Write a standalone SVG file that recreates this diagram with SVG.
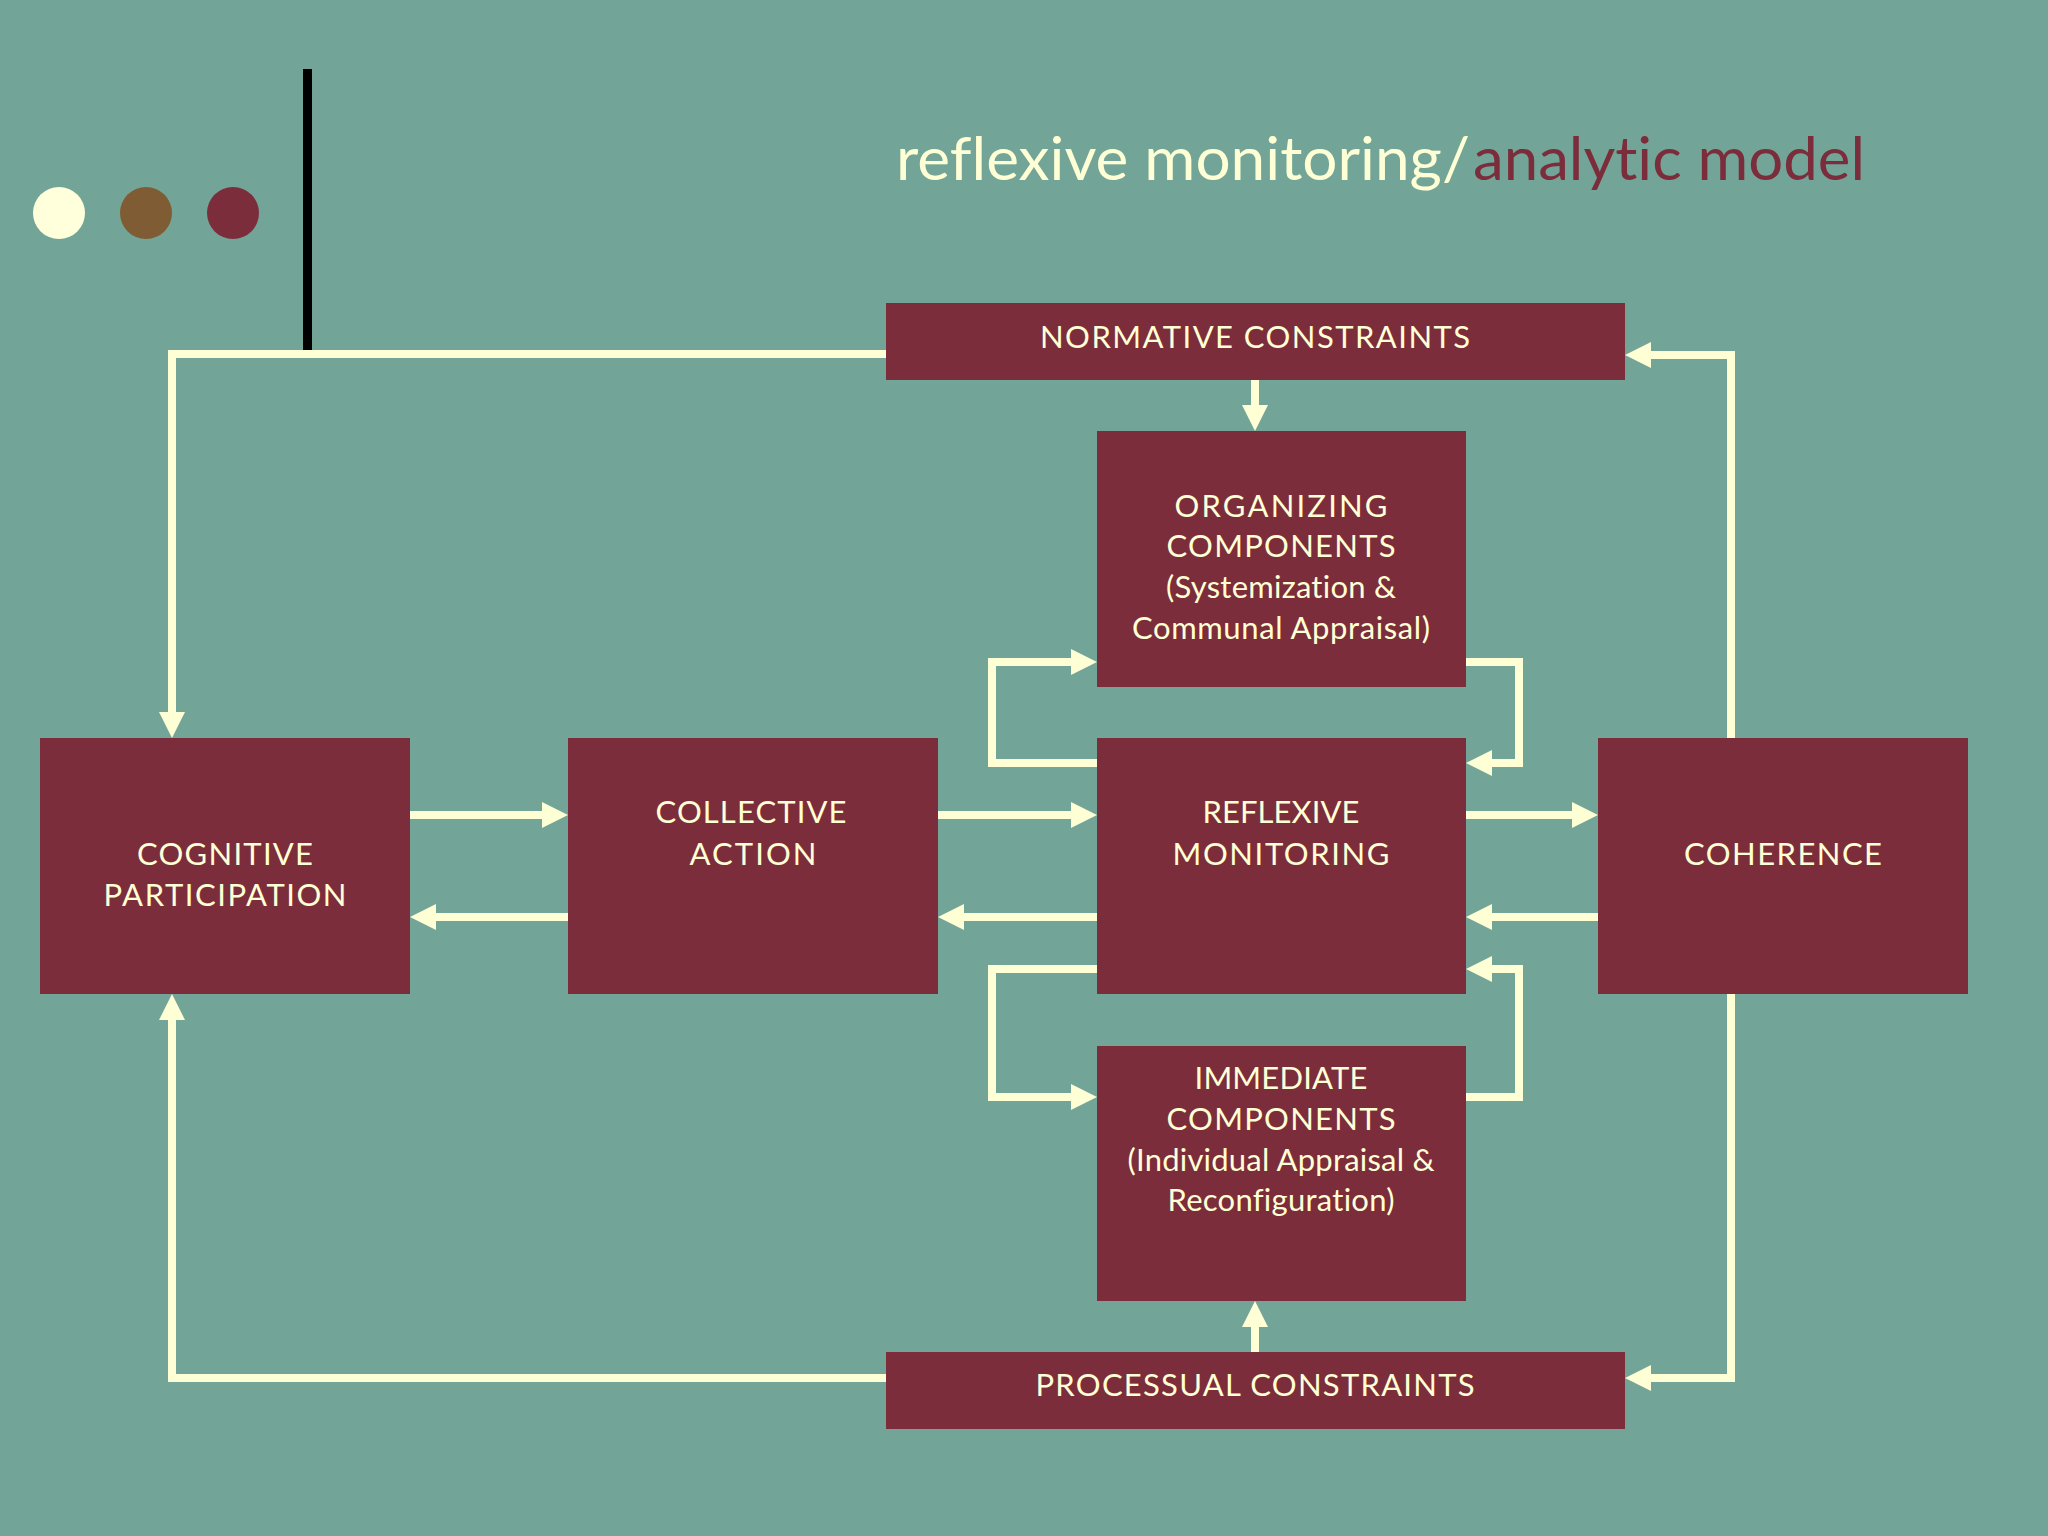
<svg xmlns="http://www.w3.org/2000/svg" width="2048" height="1536" viewBox="0 0 2048 1536">
<defs>
<style>
.bg{fill:#72A597}
.box{fill:#7C2D3B}
.lbl{font-family:Lato,"Open Sans","Liberation Sans",sans-serif;font-size:31px;fill:#FFFFD6;text-anchor:middle;font-variant-ligatures:none;font-feature-settings:"liga" 0,"dlig" 0}
.title{font-family:Lato,"Open Sans","Liberation Sans",sans-serif;font-size:60px;font-variant-ligatures:none;font-feature-settings:"liga" 0,"dlig" 0}
.conn{fill:none;stroke:#FFFFD6;stroke-width:8;stroke-linejoin:miter}
</style>
<marker id="arr" markerUnits="userSpaceOnUse" markerWidth="26" markerHeight="26" refX="0" refY="13" orient="auto">
<path d="M0,0 L26,13 L0,26 Z" fill="#FFFFD6"/>
</marker>
</defs>
<rect class="bg" x="0" y="0" width="2048" height="1536"/>
<g id="decoration">
<circle cx="59" cy="213" r="26" fill="#FFFFDC"/>
<circle cx="146" cy="213" r="26" fill="#805C34"/>
<circle cx="233" cy="213" r="26" fill="#7C2D3B"/>
<rect x="303" y="69" width="9" height="281" fill="#000000"/>
</g>
<g id="title">
<text class="title" x="896" y="180" fill="#FFFFD6" textLength="574" lengthAdjust="spacingAndGlyphs">reflexive monitoring/</text>
<text class="title" x="1473" y="180" fill="#7C2D3B" textLength="392" lengthAdjust="spacingAndGlyphs">analytic model</text>
</g>
<g id="connectors">
<path class="conn" marker-end="url(#arr)" d="M886,354 H172 V712"/>
<path class="conn" marker-end="url(#arr)" d="M886,1378 H172 V1020"/>
<path class="conn" marker-end="url(#arr)" d="M1731,738 V355 H1651"/>
<path class="conn" marker-end="url(#arr)" d="M1731,994 V1378 H1651"/>
<path class="conn" marker-end="url(#arr)" d="M1255,380 V405"/>
<path class="conn" marker-end="url(#arr)" d="M1255,1352 V1327"/>
<path class="conn" marker-end="url(#arr)" d="M410,815 H542"/>
<path class="conn" marker-end="url(#arr)" d="M568,917 H436"/>
<path class="conn" marker-end="url(#arr)" d="M938,815 H1071"/>
<path class="conn" marker-end="url(#arr)" d="M1097,917 H964"/>
<path class="conn" marker-end="url(#arr)" d="M1466,815 H1572"/>
<path class="conn" marker-end="url(#arr)" d="M1598,917 H1492"/>
<path class="conn" marker-end="url(#arr)" d="M1097,763 H992 V662 H1071"/>
<path class="conn" marker-end="url(#arr)" d="M1466,662 H1519 V763 H1492"/>
<path class="conn" marker-end="url(#arr)" d="M1097,969 H992 V1097 H1071"/>
<path class="conn" marker-end="url(#arr)" d="M1466,1097 H1519 V969 H1492"/>
</g>
<g id="normative">
<rect class="box" x="886" y="303" width="739" height="77"/>
<text class="lbl" x="1255" y="348" textLength="430">NORMATIVE CONSTRAINTS</text>
</g>
<g id="organizing">
<rect class="box" x="1097" y="431" width="369" height="256"/>
<text class="lbl" x="1281" y="517" textLength="213">ORGANIZING</text>
<text class="lbl" x="1281" y="557" textLength="229">COMPONENTS</text>
<text class="lbl" x="1281" y="598" textLength="230">(Systemization &amp;</text>
<text class="lbl" x="1281" y="639" textLength="298">Communal Appraisal)</text>
</g>
<g id="cognitive">
<rect class="box" x="40" y="738" width="370" height="256"/>
<text class="lbl" x="225" y="865" textLength="176">COGNITIVE</text>
<text class="lbl" x="225" y="906" textLength="243">PARTICIPATION</text>
</g>
<g id="collective">
<rect class="box" x="568" y="738" width="370" height="256"/>
<text class="lbl" x="751" y="823" textLength="191">COLLECTIVE</text>
<text class="lbl" x="753" y="865" textLength="127">ACTION</text>
</g>
<g id="reflexive">
<rect class="box" x="1097" y="738" width="369" height="256"/>
<text class="lbl" x="1281" y="823" textLength="157">REFLEXIVE</text>
<text class="lbl" x="1281" y="865" textLength="217">MONITORING</text>
</g>
<g id="coherence">
<rect class="box" x="1598" y="738" width="370" height="256"/>
<text class="lbl" x="1783" y="865" textLength="198">COHERENCE</text>
</g>
<g id="immediate">
<rect class="box" x="1097" y="1046" width="369" height="255"/>
<text class="lbl" x="1281" y="1089" textLength="173">IMMEDIATE</text>
<text class="lbl" x="1281" y="1130" textLength="229">COMPONENTS</text>
<text class="lbl" x="1281" y="1171" textLength="307">(Individual Appraisal &amp;</text>
<text class="lbl" x="1281" y="1211" textLength="227">Reconfiguration)</text>
</g>
<g id="processual">
<rect class="box" x="886" y="1352" width="739" height="77"/>
<text class="lbl" x="1255" y="1396" textLength="439">PROCESSUAL CONSTRAINTS</text>
</g>
</svg>
